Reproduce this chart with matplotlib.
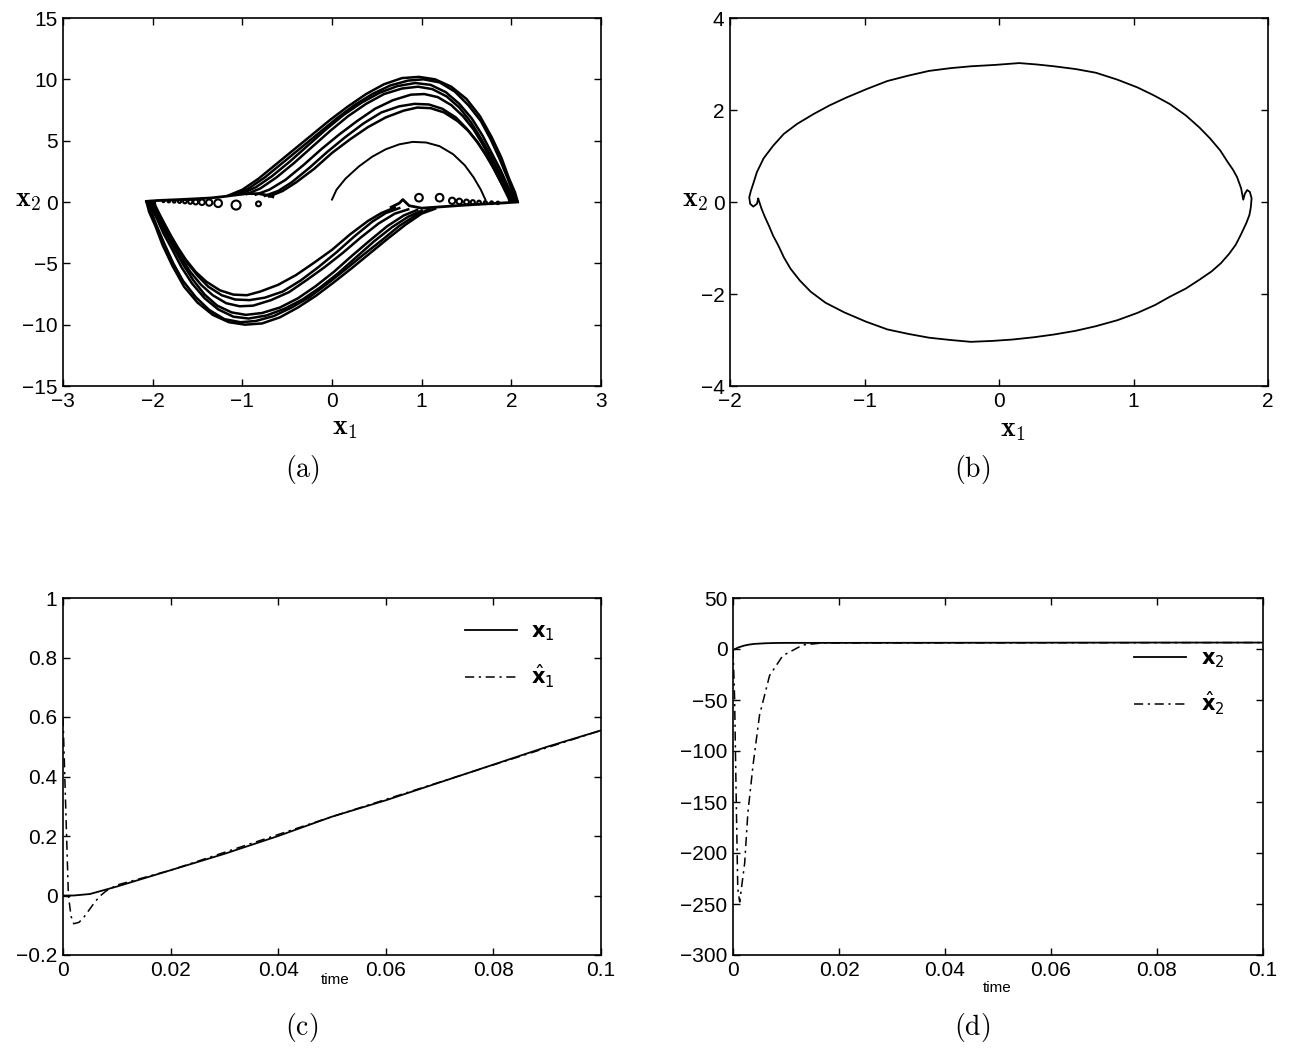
import numpy as np
import matplotlib.pyplot as plt
from matplotlib.ticker import FuncFormatter
from matplotlib.font_manager import FontProperties

plt.rcParams['font.family'] = ['Liberation Sans', 'DejaVu Sans']
plt.rcParams['mathtext.fontset'] = 'cm'

# ---------------- (a) observer phase portrait (digitized) ----------------
# upper arcs, outermost first
up_x1 = [
    [-1.15, -1.00, -0.82, -0.62, -0.42, -0.22, -0.02, 0.18, 0.38, 0.58, 0.78, 0.97, 1.15, 1.33, 1.50, 1.65, 1.78, 1.89, 1.97, 2.04, 2.07],
    [-1.08, -0.93, -0.75, -0.55, -0.35, -0.15, 0.05, 0.25, 0.45, 0.65, 0.85, 1.02, 1.20, 1.37, 1.52, 1.66, 1.77, 1.87, 1.96, 2.02, 2.06],
    [-1.00, -0.85, -0.67, -0.47, -0.27, -0.07, 0.13, 0.33, 0.53, 0.73, 0.93, 1.10, 1.27, 1.42, 1.56, 1.68, 1.78, 1.88, 1.96, 2.02, 2.04],
    [-0.95, -0.80, -0.62, -0.42, -0.22, -0.02, 0.18, 0.38, 0.58, 0.78, 0.96, 1.12, 1.28, 1.42, 1.55, 1.66, 1.76, 1.86, 1.95, 2.00, 2.03],
    [-0.85, -0.70, -0.52, -0.32, -0.12, 0.08, 0.28, 0.48, 0.68, 0.88, 1.03, 1.18, 1.33, 1.46, 1.58, 1.68, 1.77, 1.86, 1.94, 1.99, 2.02],
    [-0.75, -0.60, -0.45, -0.25, -0.05, 0.15, 0.35, 0.55, 0.75, 0.92, 1.08, 1.23, 1.38, 1.50, 1.61, 1.71, 1.79, 1.87, 1.94, 1.98, 2.00],
    [-0.70, -0.55, -0.40, -0.20, 0.00, 0.20, 0.40, 0.60, 0.80, 0.95, 1.10, 1.25, 1.40, 1.52, 1.63, 1.72, 1.80, 1.87, 1.93, 1.97, 1.98],
]
up_x2 = [
    [0.55, 1.0, 1.9, 3.1, 4.3, 5.5, 6.7, 7.8, 8.8, 9.6, 10.1, 10.2, 10.0, 9.4, 8.4, 7.0, 5.3, 3.6, 2.0, 0.8, 0.05],
    [0.6, 1.1, 2.0, 3.2, 4.4, 5.6, 6.8, 7.9, 8.8, 9.5, 9.9, 10.0, 9.75, 9.0, 7.9, 6.6, 5.1, 3.5, 1.9, 0.7, 0.05],
    [0.7, 1.2, 2.1, 3.3, 4.6, 5.9, 7.1, 8.1, 8.9, 9.45, 9.7, 9.55, 8.95, 8.0, 6.8, 5.4, 4.0, 2.6, 1.3, 0.45, 0.05],
    [0.65, 1.1, 2.0, 3.2, 4.5, 5.8, 7.0, 8.0, 8.8, 9.25, 9.4, 9.2, 8.6, 7.7, 6.5, 5.2, 3.9, 2.5, 1.3, 0.45, 0.05],
    [0.6, 1.0, 1.8, 3.0, 4.3, 5.5, 6.6, 7.6, 8.3, 8.75, 8.8, 8.55, 7.9, 7.0, 5.9, 4.7, 3.5, 2.3, 1.2, 0.4, 0.05],
    [0.5, 0.9, 1.6, 2.8, 4.1, 5.3, 6.4, 7.3, 7.8, 8.0, 7.95, 7.6, 6.9, 6.0, 5.0, 3.9, 2.9, 1.8, 0.9, 0.3, 0.05],
    [0.45, 0.9, 1.6, 2.7, 4.0, 5.1, 6.1, 6.9, 7.45, 7.7, 7.65, 7.3, 6.6, 5.8, 4.8, 3.8, 2.8, 1.8, 0.9, 0.3, 0.05],
]
# lower arcs, outermost first
lo_x1 = [
    [1.15, 1.00, 0.82, 0.62, 0.42, 0.22, 0.02, -0.18, -0.38, -0.58, -0.78, -0.97, -1.15, -1.33, -1.50, -1.65, -1.78, -1.89, -1.97, -2.04, -2.07],
    [1.08, 0.93, 0.75, 0.55, 0.35, 0.15, -0.05, -0.25, -0.45, -0.65, -0.85, -1.02, -1.20, -1.37, -1.52, -1.66, -1.77, -1.87, -1.96, -2.02, -2.06],
    [1.00, 0.85, 0.67, 0.47, 0.27, 0.07, -0.13, -0.33, -0.53, -0.73, -0.93, -1.10, -1.27, -1.42, -1.56, -1.68, -1.78, -1.88, -1.96, -2.02, -2.04],
    [0.95, 0.80, 0.62, 0.42, 0.22, 0.02, -0.18, -0.38, -0.58, -0.78, -0.96, -1.12, -1.28, -1.42, -1.55, -1.66, -1.76, -1.86, -1.95, -2.00, -2.03],
    [0.85, 0.70, 0.52, 0.32, 0.12, -0.08, -0.28, -0.48, -0.68, -0.88, -1.03, -1.18, -1.33, -1.46, -1.58, -1.68, -1.77, -1.86, -1.94, -1.99, -2.02],
    [0.75, 0.60, 0.45, 0.25, 0.05, -0.15, -0.35, -0.55, -0.75, -0.92, -1.08, -1.23, -1.38, -1.50, -1.61, -1.71, -1.79, -1.87, -1.94, -1.98, -2.00],
    [0.70, 0.55, 0.40, 0.20, 0.00, -0.20, -0.40, -0.60, -0.80, -0.95, -1.10, -1.25, -1.40, -1.52, -1.63, -1.72, -1.80, -1.87, -1.93, -1.97, -1.98],
]
lo_x2 = [
    [-0.55, -0.95, -1.85, -3.0, -4.2, -5.4, -6.55, -7.65, -8.6, -9.4, -9.9, -10.0, -9.8, -9.2, -8.2, -6.9, -5.2, -3.5, -1.95, -0.8, 0.05],
    [-0.6, -1.1, -1.95, -3.15, -4.3, -5.5, -6.65, -7.75, -8.6, -9.3, -9.7, -9.8, -9.55, -8.8, -7.75, -6.45, -5.0, -3.4, -1.85, -0.7, 0.05],
    [-0.7, -1.2, -2.05, -3.2, -4.5, -5.8, -6.95, -7.95, -8.7, -9.25, -9.5, -9.35, -8.75, -7.85, -6.65, -5.3, -3.9, -2.55, -1.25, -0.45, 0.05],
    [-0.65, -1.1, -1.95, -3.15, -4.4, -5.7, -6.85, -7.85, -8.6, -9.05, -9.2, -9.0, -8.45, -7.55, -6.35, -5.1, -3.8, -2.45, -1.25, -0.45, 0.05],
    [-0.6, -0.95, -1.75, -2.9, -4.15, -5.3, -6.35, -7.35, -8.0, -8.45, -8.5, -8.25, -7.6, -6.75, -5.7, -4.55, -3.4, -2.2, -1.15, -0.4, 0.05],
    [-0.5, -0.9, -1.6, -2.8, -4.1, -5.3, -6.4, -7.3, -7.8, -8.0, -7.95, -7.6, -6.9, -6.0, -5.0, -3.9, -2.9, -1.8, -0.9, -0.3, 0.05],
    [-0.45, -0.9, -1.55, -2.65, -3.9, -4.95, -5.95, -6.75, -7.3, -7.6, -7.55, -7.2, -6.5, -5.7, -4.7, -3.7, -2.7, -1.75, -0.9, -0.3, 0.05],
]
# slow branches along x2 ~ 0
flat_l_x1 = [-2.07, -1.95, -1.75, -1.55, -1.35, -1.20, -1.10, -0.95, -0.82, -0.72, -0.66]
flat_l_x2 = [0.05, 0.12, 0.18, 0.25, 0.33, 0.45, 0.55, 0.68, 0.68, 0.55, 0.42]
flat_r_x1 = [0.66, 0.75, 0.79, 0.86, 1.00, 1.20, 1.45, 1.70, 1.90, 2.07]
flat_r_x2 = [-0.42, -0.1, 0.2, -0.3, -0.5, -0.4, -0.27, -0.16, -0.08, 0.0]
# initial transient from the origin
init_x1 = [0.00, 0.05, 0.15, 0.30, 0.45, 0.60, 0.75, 0.90, 1.05, 1.20, 1.35, 1.48, 1.58, 1.66, 1.71]
init_x2 = [0.2, 1.0, 1.9, 2.9, 3.7, 4.3, 4.7, 4.9, 4.85, 4.55, 3.9, 3.0, 2.0, 1.0, 0.2]
# small numerical loops on the slow branches
loop_l_x1 = [-0.82, -1.07, -1.27, -1.37, -1.45, -1.52, -1.58, -1.64, -1.70, -1.76, -1.82, -1.88]
loop_l_x2 = [-0.15, -0.25, -0.1, -0.05, -0.02, 0.0, 0.02, 0.04, 0.05, 0.06, 0.07, 0.08]
loop_l_size = [3.5, 6.5, 5.5, 4.5, 4.0, 3.5, 3.0, 2.6, 2.2, 2.0, 1.8, 1.6]
loop_r_x1 = [0.97, 1.20, 1.34, 1.42, 1.50, 1.57, 1.64, 1.71, 1.78, 1.85]
loop_r_x2 = [0.35, 0.35, 0.1, 0.05, 0.0, -0.02, -0.04, -0.05, -0.06, -0.07]
loop_r_size = [5.5, 5.5, 4.5, 4.0, 3.5, 3.0, 2.6, 2.2, 2.0, 1.8]

# ---------------- (b) closed orbit ----------------
orb_x1 = [-1.79, -1.765, -1.74, -1.71, -1.68, -1.64, -1.60, -1.55, -1.48, -1.40, -1.29, -1.15, -0.99,
          -0.83, -0.67, -0.52, -0.36, -0.21, -0.05, 0.10, 0.26, 0.41, 0.57, 0.72, 0.88, 1.03, 1.16,
          1.27, 1.39, 1.49, 1.58, 1.65, 1.71, 1.76, 1.80, 1.84, 1.862, 1.872, 1.878, 1.865, 1.845,
          1.828, 1.816, 1.80, 1.77, 1.74, 1.70, 1.645, 1.57, 1.49, 1.39, 1.27, 1.15, 1.03, 0.88,
          0.72, 0.57, 0.41, 0.28, 0.15, -0.03, -0.21, -0.36, -0.52, -0.67, -0.83, -0.98, -1.135,
          -1.26, -1.38, -1.50, -1.60, -1.68, -1.75, -1.80, -1.827, -1.845, -1.857, -1.85, -1.827,
          -1.80, -1.79]
orb_x2 = [0.07, -0.15, -0.33, -0.52, -0.73, -0.95, -1.20, -1.45, -1.71, -1.95, -2.19, -2.40, -2.60,
          -2.77, -2.87, -2.95, -3.00, -3.04, -3.02, -2.99, -2.94, -2.88, -2.80, -2.70, -2.57, -2.41, -2.24,
          -2.06, -1.88, -1.69, -1.51, -1.33, -1.13, -0.93, -0.70, -0.45, -0.28, -0.12, 0.08, 0.22, 0.26,
          0.18, 0.05, 0.30, 0.54, 0.70, 0.87, 1.12, 1.38, 1.62, 1.88, 2.13, 2.32, 2.49, 2.66,
          2.81, 2.89, 2.95, 2.99, 3.02, 2.98, 2.95, 2.91, 2.85, 2.75, 2.63, 2.46, 2.27,
          2.10, 1.91, 1.70, 1.48, 1.22, 0.95, 0.65, 0.40, 0.24, 0.10, -0.04, -0.10,
          -0.04, 0.07]

# ---------------- (c) x1 and its estimate ----------------
t_c = [0, 0.002, 0.005, 0.01, 0.02, 0.03, 0.04, 0.05, 0.06, 0.07, 0.08, 0.09, 0.1]
x1_c = [0, 0.0, 0.005, 0.03, 0.085, 0.14, 0.2, 0.265, 0.32, 0.38, 0.44, 0.5, 0.555]
t_hat_c = [0, 0.0005, 0.001, 0.0015, 0.002, 0.003, 0.004, 0.005, 0.006, 0.007, 0.008, 0.009, 0.01, 0.012, 0.02, 0.05, 0.1]
x1_hat_c = [0.6, 0.3, 0.0, -0.07, -0.095, -0.09, -0.07, -0.045, -0.02, 0.0, 0.015, 0.025, 0.035, 0.045, 0.085, 0.265, 0.555]

# ---------------- (d) x2 and its estimate ----------------
t_d = [0, 0.001, 0.002, 0.003, 0.004, 0.006, 0.008, 0.01, 0.02, 0.04, 0.06, 0.08, 0.1]
x2_d = [-1, 1.5, 3.2, 4.3, 5.0, 5.6, 5.9, 6.0, 6.0, 6.1, 6.2, 6.3, 6.3]
t_hat_d = [0, 0.0003, 0.0006, 0.0009, 0.00126, 0.0022, 0.0028, 0.0038, 0.005, 0.0069, 0.0094, 0.0132, 0.017, 0.03, 0.1]
x2_hat_d = [0, -48, -145, -235, -248, -210, -161, -113, -65, -26, -6.5, 4.0, 6.0, 6.0, 6.3]

# ---------------- layout ----------------
W, H = 1292, 1051
fig = plt.figure(figsize=(W / 100, H / 100), dpi=100)


def box(l, r, t, b):
    return [l / W, 1 - b / H, (r - l) / W, (b - t) / H]


def fmt(v, pos):
    s = '%g' % round(v, 6)
    return s.replace('-', '\u2212')


def style(ax, xl, yl, xt, yt):
    ax.set_xlim(xl)
    ax.set_ylim(yl)
    ax.set_xticks(xt)
    ax.set_yticks(yt)
    ax.xaxis.set_major_formatter(FuncFormatter(fmt))
    ax.yaxis.set_major_formatter(FuncFormatter(fmt))
    ax.tick_params(direction='in', top=True, right=True, length=5, width=1,
                   labelsize=15, pad=4)
    for sp in ax.spines.values():
        sp.set_linewidth(1.2)


dash_dot = (0, (6, 3, 1.5, 3))
leg_font = FontProperties(family='Liberation Sans', size=15, math_fontfamily='dejavusans')
leg_kw = dict(loc='upper left', frameon=False, prop=leg_font, handlelength=2.5,
              handletextpad=0.7, labelspacing=0.95, borderpad=0)

# (a)
ax = fig.add_axes(box(63, 601, 18, 386))
for xs, ys in zip(up_x1, up_x2):
    ax.plot(xs, ys, color='k', lw=1.8)
for xs, ys in zip(lo_x1, lo_x2):
    ax.plot(xs, ys, color='k', lw=1.8)
ax.plot(flat_l_x1, flat_l_x2, color='k', lw=2.0)
ax.plot(flat_r_x1, flat_r_x2, color='k', lw=2.0)
ax.plot(init_x1, init_x2, color='k', lw=1.4)
ax.scatter(loop_l_x1, loop_l_x2, s=np.array(loop_l_size) ** 2, facecolors='none',
           edgecolors='k', linewidths=1.5)
ax.scatter(loop_r_x1, loop_r_x2, s=np.array(loop_r_size) ** 2, facecolors='none',
           edgecolors='k', linewidths=1.5)
style(ax, (-3, 3), (-15, 15), range(-3, 4), range(-15, 16, 5))

# (b)
ax = fig.add_axes(box(730, 1268, 18, 386))
ax.plot(orb_x1, orb_x2, color='k', lw=1.3)
style(ax, (-2, 2), (-4, 4), range(-2, 3), range(-4, 5, 2))

# (c)
ax = fig.add_axes(box(63, 601, 598, 955))
ax.plot(t_c, x1_c, color='k', lw=1.3, label=r'$\mathbf{x}_1$')
ax.plot(t_hat_c, x1_hat_c, color='k', lw=1.1, ls=dash_dot, label=r'$\hat{\mathbf{x}}_1$')
style(ax, (0, 0.1), (-0.2, 1), np.arange(0, 0.101, 0.02), np.arange(-0.2, 1.01, 0.2))
ax.legend(bbox_to_anchor=(0.727, 0.96), **leg_kw)

# (d)
ax = fig.add_axes(box(733, 1263, 598, 955))
ax.plot(t_d, x2_d, color='k', lw=1.3, label=r'$\mathbf{x}_2$')
ax.plot(t_hat_d, x2_hat_d, color='k', lw=1.1, ls=dash_dot, label=r'$\hat{\mathbf{x}}_2$')
style(ax, (0, 0.1), (-300, 50), np.arange(0, 0.101, 0.02), range(-300, 51, 50))
ax.legend(bbox_to_anchor=(0.737, 0.885), **leg_kw)

# axis labels and captions
lab = dict(fontsize=20, ha='center', va='center')
fig.text(345 / W, 1 - 428 / H, r'$\mathbf{x}_\mathbf{1}$', **lab)
fig.text(28 / W, 1 - 200 / H, r'$\mathbf{x}_\mathbf{2}$', **lab)
fig.text(1013 / W, 1 - 430 / H, r'$\mathbf{x}_\mathbf{1}$', **lab)
fig.text(695 / W, 1 - 200 / H, r'$\mathbf{x}_\mathbf{2}$', **lab)
fig.text(335 / W, 1 - 980 / H, 'time', fontsize=11, ha='center', va='center')
fig.text(997 / W, 1 - 988 / H, 'time', fontsize=11, ha='center', va='center')
cap = dict(fontsize=20, ha='center', va='center')
fig.text(302 / W, 1 - 470 / H, r'$\mathrm{(a)}$', **cap)
fig.text(972 / W, 1 - 470 / H, r'$\mathrm{(b)}$', **cap)
fig.text(302 / W, 1 - 1028 / H, r'$\mathrm{(c)}$', **cap)
fig.text(972 / W, 1 - 1028 / H, r'$\mathrm{(d)}$', **cap)

fig.savefig('out.png', dpi=100)
